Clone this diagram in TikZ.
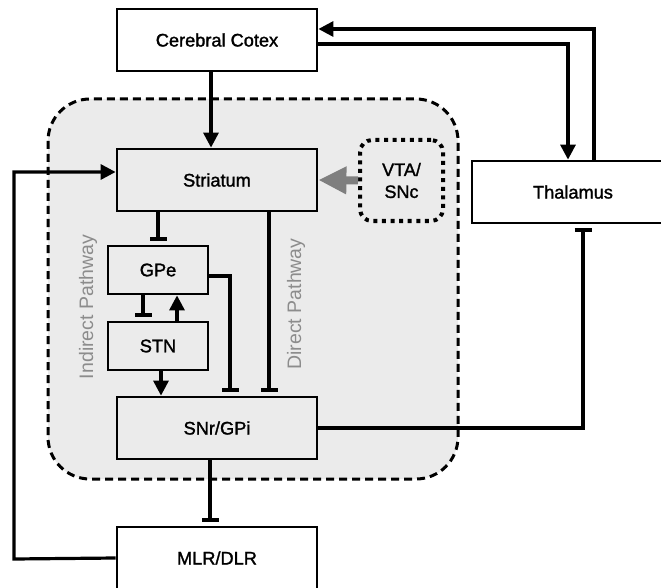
\documentclass[tikz,border=0pt]{standalone}
\usepackage{fontspec}
\setmainfont{Liberation Sans}
\newfontfamily\boxfont[FakeBold=1.5]{Liberation Sans}
\usetikzlibrary{arrows.meta}
\definecolor{regionfill}{HTML}{EBEBEB}
\definecolor{pathgray}{HTML}{8C8C8C}
\definecolor{dagray}{HTML}{7F7F7F}
\tikzset{
  box/.style={draw=black, line width=2.8pt, minimum width=200pt, minimum height=62pt, inner sep=0pt,
    font=\boxfont\fontsize{18.2}{21}\selectfont},
  smallbox/.style={box, minimum width=100pt, minimum height=48pt},
  conn/.style={line width=3.2pt},
  arr/.style={conn, -{Triangle[length=15pt,width=15pt]}},
  tee/.style={conn, -{Bar[width=17pt,line width=4pt]}, shorten >=4pt},
  region/.style={draw=black, line width=3pt, dash pattern=on 8pt off 5pt, fill=regionfill, rounded corners=42pt},
  dotbox/.style={draw=black, line width=4pt, dash pattern=on 4pt off 4.6pt, rounded corners=12pt,
    minimum width=83pt, minimum height=81pt, inner sep=0pt, align=center,
    font=\boxfont\fontsize{18}{22}\selectfont},
  pathlabel/.style={text=pathgray, rotate=90, font=\fontsize{19.5}{22}\selectfont}
}
\begin{document}
\begin{tikzpicture}[x=1pt, y=-1pt]
\useasboundingbox (0,0) rectangle (661,588);
\fill[white] (0,0) rectangle (661,588);
% basal ganglia region
\draw[region] (48,99) rectangle (458,479);
% nodes
\node[box] (cortex) at (217,40) {Cerebral Cotex};
\node[box] (striatum) at (217,180) {Striatum};
\node[smallbox] (gpe) at (158,270) {GPe};
\node[smallbox] (stn) at (158,346) {STN};
\node[box] (snr) at (217,428) {SNr/GPi};
\node[box, fill=white] (mlr) at (217,558) {MLR/DLR};
\node[box, fill=white, minimum width=202pt] (thal) at (573,192) {Thalamus};
\node[dotbox] (vta) at (401.5,180.5) {VTA/\\SNc};
\node[pathlabel] (indirect) at (88,307) {Indirect Pathway};
\node[pathlabel] (direct) at (296,304) {Direct Pathway};
% connectors
\draw[arr] ([xshift=21pt]thal.north) |- ([yshift=11pt]cortex.east);
\draw[arr] ([yshift=-4pt]cortex.east) -| ([xshift=-5pt]thal.north);
\draw[arr] ([xshift=-6pt]cortex.south) -- ([xshift=-6pt]striatum.north);
\draw[line width=8pt, draw=dagray, -{Triangle[length=28pt,width=26pt]}] (vta.west) -- (striatum.east);
\coordinate (loopcorner) at (14,559);
\draw[arr] (mlr.west) -- (loopcorner) |- ([yshift=8pt]striatum.west);
\draw[tee] (gpe.north |- striatum.south) -- (gpe.north);
\draw[tee] ([xshift=-15pt]gpe.south) -- ([xshift=-15pt]stn.north);
\draw[arr] ([xshift=19pt]stn.north) -- ([xshift=19pt]gpe.south);
\draw[arr] ([xshift=3pt]stn.south) -- ([xshift=3pt]stn.south |- snr.north);
\draw[tee] ([yshift=-6pt]gpe.east) -| ([xshift=13pt]snr.north);
\draw[tee] ([xshift=52pt]striatum.south) -- ([xshift=52pt]snr.north);
\draw[tee] (snr.east) -| ([xshift=10pt]thal.south);
\draw[tee] ([xshift=-7pt]snr.south) -- ([xshift=-7pt]mlr.north);
\end{tikzpicture}
\end{document}
